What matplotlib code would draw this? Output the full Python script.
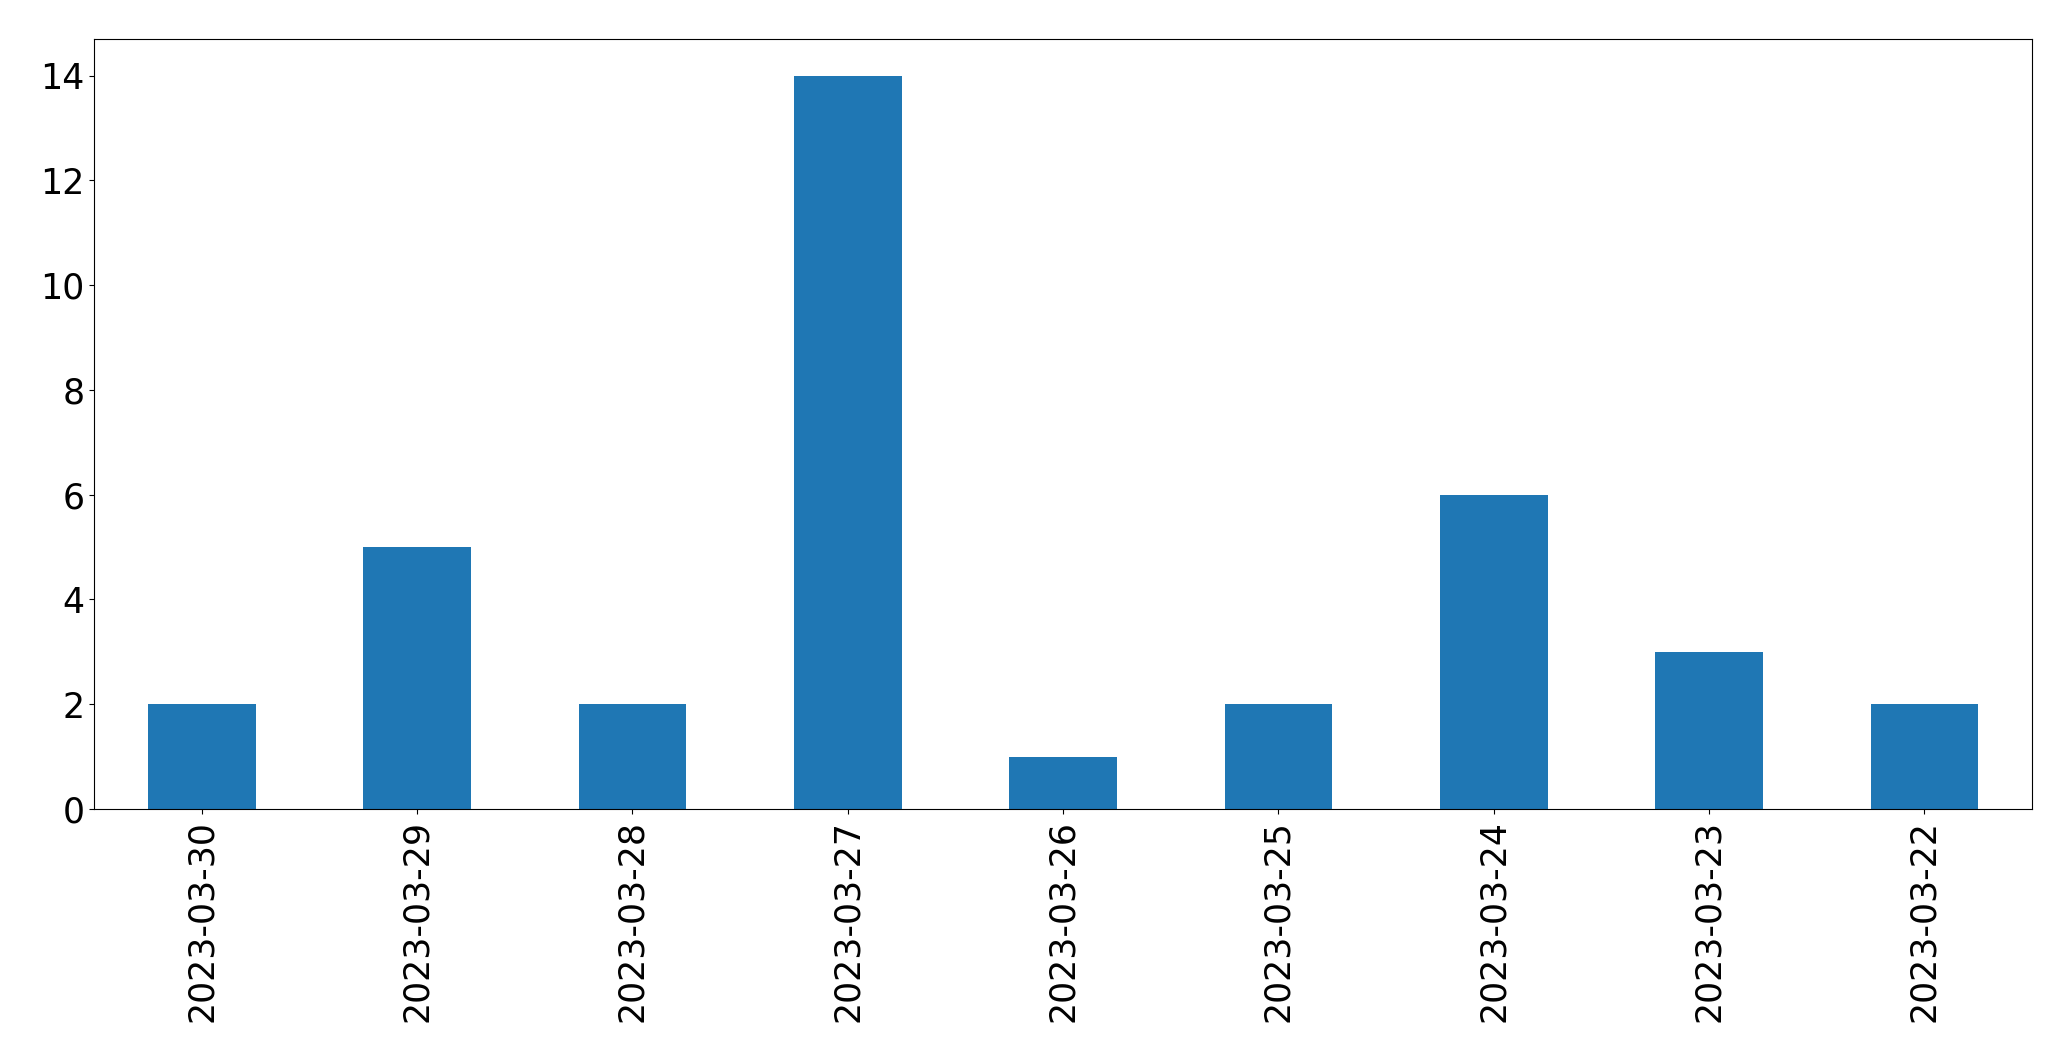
import matplotlib
matplotlib.use("Agg")
import matplotlib.pyplot as plt
import numpy as np

dates = ["2023-03-30", "2023-03-29", "2023-03-28", "2023-03-27", "2023-03-26",
         "2023-03-25", "2023-03-24", "2023-03-23", "2023-03-22"]
counts = [2, 5, 2, 14, 1, 2, 6, 3, 2]

fig, ax = plt.subplots(figsize=(20.71, 10.61), dpi=100)
x = np.arange(len(dates))
ax.bar(x, counts, width=0.5, color="#1f77b4")
ax.set_xlim(-0.5, len(dates) - 0.5)
ax.set_xticks(x)
ax.set_xticklabels(dates, rotation=90)
ax.tick_params(labelsize=25)
ax.tick_params(axis="x", pad=4.5)
fig.subplots_adjust(left=0.0454, right=0.9812, top=0.9632, bottom=0.2375)

plt.savefig("out.png")
